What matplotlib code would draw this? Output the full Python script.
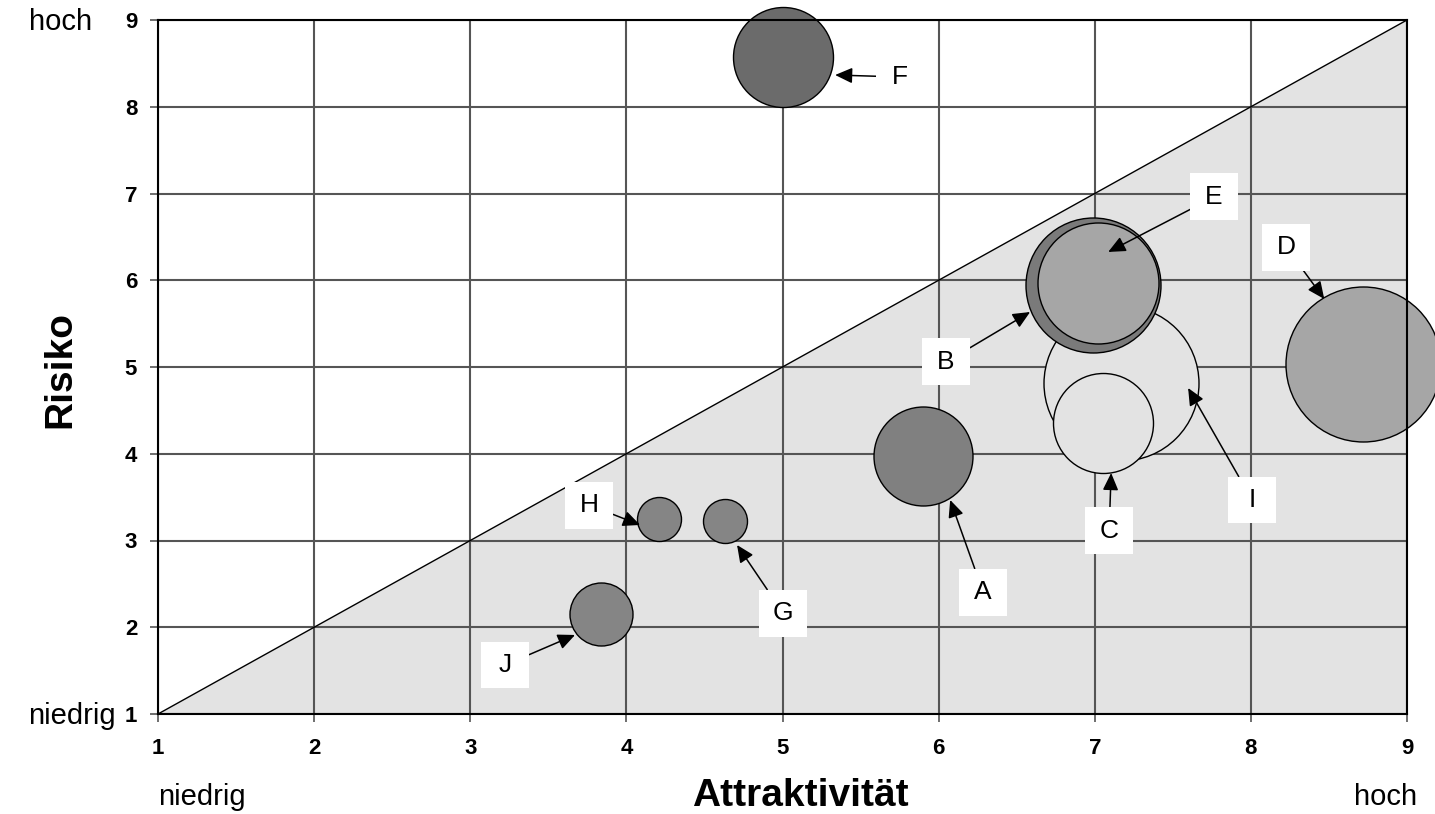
import matplotlib
matplotlib.use("Agg")
import matplotlib.pyplot as plt
from matplotlib.path import Path
import numpy as np

plt.rcParams['font.family'] = ['Liberation Sans', 'DejaVu Sans']

# ---- data ----
names = ['I', 'C', 'B', 'E', 'A', 'D', 'F', 'G', 'H', 'J']
attraktivitaet = [7.17, 7.05, 6.99, 7.02, 5.90, 8.72, 5.00, 4.63, 4.21, 3.84]
risiko = [4.82, 4.35, 5.94, 5.97, 3.97, 5.03, 8.57, 3.23, 3.25, 2.15]
bubble_radius_px = [77.5, 50, 67.5, 60.5, 49.5, 77.5, 50, 22, 22, 31.5]
bubble_colors = ['#e3e3e3', '#e3e3e3', '#7a7a7a', '#a6a6a6', '#808080',
                 '#a6a6a6', '#6b6b6b', '#858585', '#858585', '#858585']

label_x = [8.008, 7.092, 6.048, 7.765, 6.285, 8.226, 5.753, 5.004, 3.761, 3.223]
label_y = [3.467, 3.110, 5.058, 6.960, 2.406, 6.383, 8.343, 2.164, 3.409, 1.565]
tip_x = [7.598, 7.105, 6.586, 7.086, 6.074, 8.470, 5.337, 4.709, 4.088, 3.671]
tip_y = [4.758, 3.778, 5.634, 6.326, 3.467, 5.784, 8.366, 2.948, 3.179, 1.911]

ticks = [1, 2, 3, 4, 5, 6, 7, 8, 9]

W, H = 1435, 814
fig = plt.figure(figsize=(W / 100, H / 100), dpi=100)
ax = fig.add_axes([158 / W, (H - 714) / H, (1407 - 158) / W, (714 - 20) / H])
ax.set_xlim(1, 9)
ax.set_ylim(1, 9)

# shaded triangle below diagonal
ax.fill([1, 9, 9], [1, 1, 9], color='#e3e3e3', zorder=0.1, lw=0)
ax.plot([1, 9], [1, 9], color='black', lw=1.0, zorder=0.6)

ax.set_axisbelow(True)
ax.grid(True, color='#555555', lw=1.5)
ax.set_xticks(ticks)
ax.set_yticks(ticks)
ax.set_xticklabels([str(t) for t in ticks], fontsize=16, fontweight='bold')
ax.set_yticklabels([str(t) for t in ticks], fontsize=16, fontweight='bold')
ax.tick_params(axis='x', length=6, width=1.2, color='#555555', pad=11)
ax.tick_params(axis='y', length=6, width=1.2, color='#555555', pad=9)
for s in ax.spines.values():
    s.set_linewidth(1.5)
    s.set_color('black')

# bubbles
for i, n in enumerate(names):
    d_pt = 2 * bubble_radius_px[i] * 0.72
    ax.scatter([attraktivitaet[i]], [risiko[i]], s=d_pt ** 2, c=bubble_colors[i],
               edgecolors='black', linewidths=1.0, zorder=2 + i * 0.01, clip_on=False)


def fixed_box(x0, y0, width, height, mutation_size):
    cx = x0 + width / 2
    cy = y0 + height / 2
    w = 1.82 * mutation_size
    h = 1.78 * mutation_size
    return Path.unit_rectangle().transformed(
        matplotlib.transforms.Affine2D().scale(w, h).translate(cx - w / 2, cy - h / 2))


for i, n in enumerate(names):
    ax.annotate(n, xy=(tip_x[i], tip_y[i]), xytext=(label_x[i], label_y[i]),
                fontsize=19, ha='center', va='center', zorder=5,
                bbox=dict(boxstyle=fixed_box, fc='white', ec='none'),
                arrowprops=dict(arrowstyle='-|>,head_length=0.55,head_width=0.25',
                                color='black', lw=1.1, shrinkA=0, shrinkB=0),
                annotation_clip=False)

# axis titles and extra labels
fig.text(800 / W, 1 - 796 / H, 'Attraktivität', fontsize=28, fontweight='bold',
         ha='center', va='center')
fig.text(60 / W, 1 - 369 / H, 'Risiko', fontsize=28, fontweight='bold',
         ha='center', va='center', rotation=90)
fig.text(61 / W, 1 - 22 / H, 'hoch', fontsize=21, ha='center', va='center')
fig.text(72 / W, 1 - 716 / H, 'niedrig', fontsize=21, ha='center', va='center')
fig.text(202 / W, 1 - 797 / H, 'niedrig', fontsize=21, ha='center', va='center')
fig.text(1386 / W, 1 - 797 / H, 'hoch', fontsize=21, ha='center', va='center')

fig.savefig('out.png', dpi=100)
